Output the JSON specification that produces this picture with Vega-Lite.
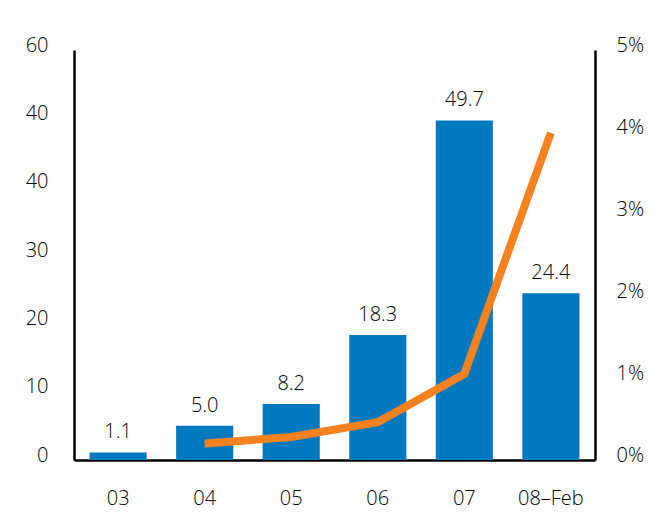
{
  "$schema": "https://vega.github.io/schema/vega-lite/v6.json",
  "autosize": {"type": "none"},
  "padding": {"left": 74, "top": 50, "right": 67, "bottom": 64},
  "width": 521,
  "height": 410,
  "background": "white",
  "config": {
    "view": {"stroke": null},
    "font": "Open Sans",
    "axis": {"labelFont": "Open Sans", "labelFontSize": 20, "labelFontWeight": 300, "labelColor": "#000000", "ticks": false, "grid": false, "domainColor": "#000000", "domainWidth": 2.5, "title": null}
  },
  "data": {
    "values": [
      {"year": "03", "value": 1.1, "share": null},
      {"year": "04", "value": 5.0, "share": 0.002},
      {"year": "05", "value": 8.2, "share": 0.0028},
      {"year": "06", "value": 18.3, "share": 0.0046},
      {"year": "07", "value": 49.7, "share": 0.0105},
      {"year": "08–Feb", "value": 24.4, "share": 0.0399}
    ]
  },
  "encoding": {
    "x": {"field": "year", "type": "ordinal", "sort": null,
      "scale": {"paddingInner": 0.34, "paddingOuter": 0.18},
      "axis": {"labelAngle": 0, "labelPadding": 28, "domainWidth": 2.5}}
  },
  "layer": [
    {
      "mark": {"type": "bar", "color": "#0079C1"},
      "encoding": {
        "y": {"field": "value", "type": "quantitative",
          "scale": {"domain": [0, 60], "nice": false},
          "axis": {"values": [0, 10, 20, 30, 40, 50, 60], "labelPadding": 26, "labelOffset": -5,
            "labelExpr": "datum.value == 50 ? '40' : datum.label"}}
      }
    },
    {
      "mark": {"type": "text", "baseline": "alphabetic", "dy": -14, "fontSize": 20, "fontWeight": 300, "color": "#000000", "font": "Open Sans"},
      "encoding": {
        "y": {"field": "value", "type": "quantitative", "scale": {"domain": [0, 60], "nice": false}, "axis": null},
        "text": {"field": "value", "type": "quantitative", "format": ".1f"}
      }
    },
    {
      "transform": [{"filter": "datum.share != null"}],
      "mark": {"type": "line", "color": "#F5821F", "strokeWidth": 8, "strokeJoin": "miter", "strokeCap": "butt"},
      "encoding": {
        "y": {"field": "share", "type": "quantitative",
          "scale": {"domain": [0, 0.05], "nice": false},
          "axis": {"orient": "right", "values": [0, 0.01, 0.02, 0.03, 0.04, 0.05], "format": ".0%", "labelPadding": 21, "labelOffset": -5}}
      }
    }
  ],
  "resolve": {"scale": {"y": "independent"}, "axis": {"y": "independent"}}
}
